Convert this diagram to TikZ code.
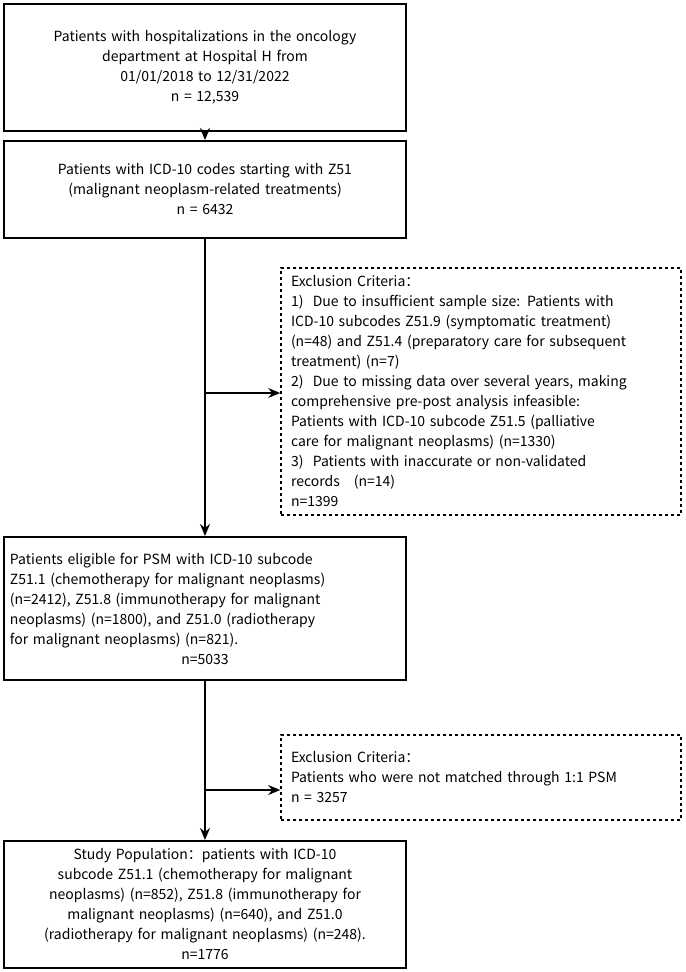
\documentclass[tikz,border=0pt]{standalone}
\usepackage{fontspec}
\setmainfont{Noto Sans CJK SC}
\usetikzlibrary{arrows.meta, positioning}
\tikzstyle{stage}=[draw, line width=1pt, rectangle, minimum width=201pt, align=center, text width=195pt, font=\fontsize{7}{10}\selectfont, inner sep=2pt]
\tikzstyle{exclude}=[draw, line width=0.8pt, dash pattern=on 1.5pt off 1.5pt, rectangle, minimum width=200pt, align=left, text width=190pt, font=\fontsize{7}{10}\selectfont, inner sep=2pt]
\tikzstyle{flow}=[line width=0.8pt, -{Stealth[length=6pt,width=5pt]}]
\begin{document}
\begin{tikzpicture}[x=0.5pt,y=-0.5pt]
\useasboundingbox (0,0) rectangle (685,972);

\node[stage, minimum height=63.5pt] (cohort) at (205,67.5) {Patients with hospitalizations in the oncology\\department at Hospital H from\\01/01/2018 to 12/31/2022\\n = 12,539};
\node[stage, minimum height=48.5pt] (zcodes) at (205,189.5) {Patients with ICD-10 codes starting with Z51\\(malignant neoplasm-related treatments)\\n = 6432};
\node[exclude, minimum height=123.5pt] (excl1) at (481,391.5) {Exclusion Criteria：\\1)\ \ Due to insufficient sample size: Patients with\\ICD-10 subcodes Z51.9 (symptomatic treatment)\\(n=48) and Z51.4 (preparatory care for subsequent\\treatment) (n=7)\\2)\ \ Due to missing data over several years, making\\comprehensive pre-post analysis infeasible:\\Patients with ICD-10 subcode Z51.5 (palliative\\care for malignant neoplasms) (n=1330)\\3)\ \ Patients with inaccurate or non-validated\\records\ \ \ (n=14)\\n=1399};
\node[stage, minimum height=71.5pt] (eligible) at (205,608.5) {\raggedright Patients eligible for PSM with ICD-10 subcode\\Z51.1 (chemotherapy for malignant neoplasms)\\(n=2412), Z51.8 (immunotherapy for malignant\\neoplasms) (n=1800), and Z51.0 (radiotherapy\\for malignant neoplasms) (n=821).\par\centering n=5033};
\node[exclude, minimum height=42.5pt] (excl2) at (481,777.5) {Exclusion Criteria：\\Patients who were not matched through 1:1 PSM\\n = 3257};
\node[stage, minimum height=63.5pt] (study) at (205,904.5) {Study Population：patients with ICD-10\\subcode Z51.1 (chemotherapy for malignant\\neoplasms) (n=852), Z51.8 (immunotherapy for\\malignant neoplasms) (n=640), and Z51.0\\(radiotherapy for malignant neoplasms) (n=248).\\n=1776};

\coordinate (split1) at (205,393);
\coordinate (split2) at (205,790);

\draw[flow] (cohort) -- (zcodes);
\draw[flow] (zcodes) -- (eligible);
\draw[flow] (split1) -- (excl1.west |- split1);
\draw[flow] (eligible) -- (study);
\draw[flow] (split2) -- (excl2.west |- split2);
\end{tikzpicture}
\end{document}
